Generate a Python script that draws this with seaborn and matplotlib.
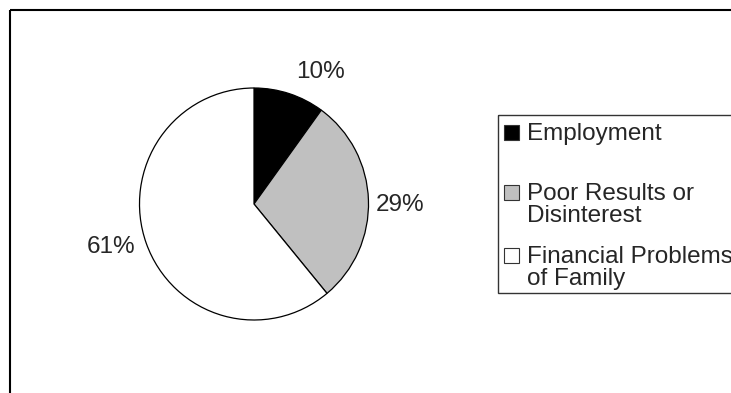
import matplotlib
matplotlib.use("Agg")
import matplotlib.pyplot as plt
import matplotlib.transforms as mtransforms
from matplotlib.patches import Rectangle
import numpy as np
import seaborn as sns

categories = ["Employment", "Poor Results or\nDisinterest", "Financial Problems\nof Family"]
values = [10, 29, 61]
pct_labels = ["10%", "29%", "61%"]
colors = ["#000000", "#c0c0c0", "#ffffff"]

sns.set_style("white")
plt.rcParams["font.family"] = ["Liberation Sans", "DejaVu Sans"]

W, H = 731, 393
fig = plt.figure(figsize=(W / 100, H / 100), dpi=100)
# transform in pixel coords with origin at top-left
px = mtransforms.Affine2D().scale(1 / W, -1 / H).translate(0, 1) + fig.transFigure

# outer frame (clipped at right and bottom)
fig.add_artist(Rectangle((9.5, 9.5), 900, 500, transform=px, fill=False,
                         edgecolor="black", linewidth=1.5))

cx, cy, rx, ry = 254, 204, 114.5, 116
ax = fig.add_axes([(cx - rx) / W, (H - cy - ry) / H, 2 * rx / W, 2 * ry / H])
wedges, _ = ax.pie(values, colors=colors, startangle=90, counterclock=False,
                   wedgeprops=dict(edgecolor="black", linewidth=0.9))
ax.set_aspect("auto")
ax.set_xlim(-1, 1)
ax.set_ylim(-1, 1)
ax.axis("off")

label_dist = [1.20, 1.06, 1.10]
label_dy = [0.0, -0.045, 0.0]
for w, lab, d, dy in zip(wedges, pct_labels, label_dist, label_dy):
    ang = np.deg2rad((w.theta1 + w.theta2) / 2)
    x, y = d * np.cos(ang), d * np.sin(ang) + dy
    ax.text(x, y, lab, ha="left" if x > 0 else "right", va="center",
            fontsize=17.5, clip_on=False)

# legend box
fig.add_artist(Rectangle((498, 115), 400, 178, transform=px, fill=False,
                         edgecolor="#333333", linewidth=1.0))
baselines = [140, 200, 263]
line_step = 22
for lab, col, b in zip(categories, colors, baselines):
    fig.add_artist(Rectangle((504, b - 15), 15, 15, transform=px,
                             facecolor=col, edgecolor="#333333", linewidth=0.8))
    n = lab.count("\n")
    fig.text(527 / W, 1 - (b + line_step * n) / H, lab, fontsize=17.5,
             va="baseline", ha="left", linespacing=1.0)

fig.savefig("out.png", dpi=100)
